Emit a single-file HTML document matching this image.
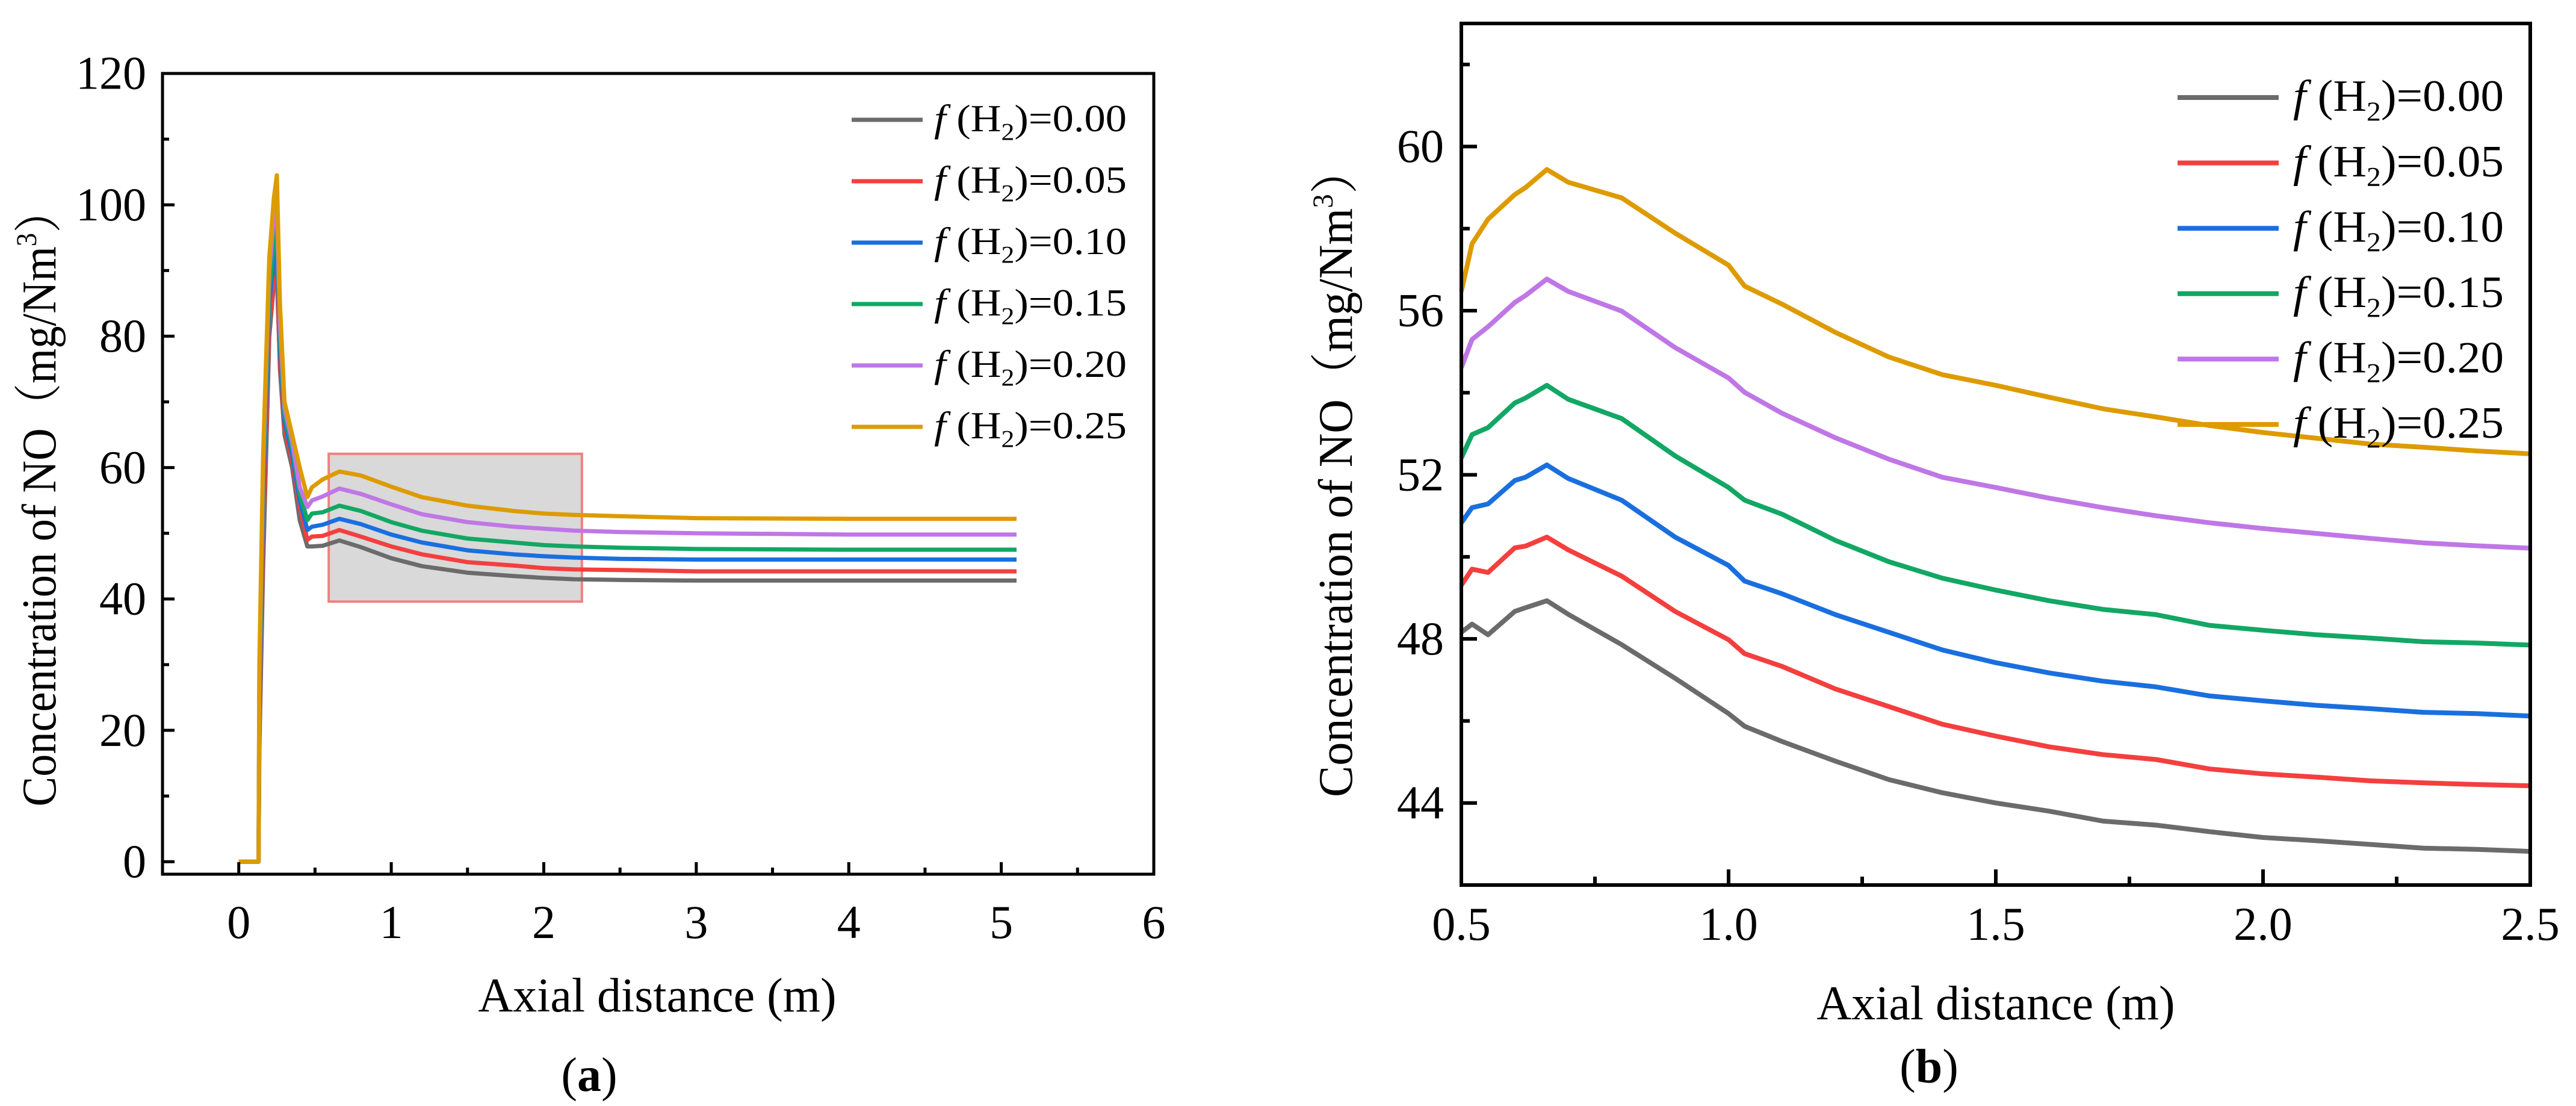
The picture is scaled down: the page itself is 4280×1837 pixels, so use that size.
<!DOCTYPE html>
<html><head><meta charset="utf-8">
<style>
html,body{margin:0;padding:0;background:#fff;}
svg{display:block;}
svg text{font-family:"Liberation Serif","Noto Serif CJK SC",serif;fill:#000;}
</style></head>
<body>
<svg id="fig" width="4280" height="1837" viewBox="0 0 4280 1837" xmlns="http://www.w3.org/2000/svg">
<rect x="0" y="0" width="4280" height="1837" fill="#fff"/>
<g id="pa"></g>
<g id="pb"></g>
</svg>
<script>
// ---------- shared series info ----------
const seriesNames = ["f(H2)=0.00","f(H2)=0.05","f(H2)=0.10","f(H2)=0.15","f(H2)=0.20","f(H2)=0.25"];
const seriesLabels = ["0.00","0.05","0.10","0.15","0.20","0.25"];
const seriesColors = ["#6b6b6b","#f43f3f","#1a6fdf","#12a764","#c077e6","#dd9b00"];

// ---------- panel (a) data ----------
const aX = [0,0.13,0.135,0.16,0.2,0.23,0.25,0.27,0.3,0.35,0.4,0.45,0.48,0.55,0.66,0.8,1.0,1.2,1.5,1.8,2.0,2.2,2.5,3.0,4.0,5.1];
const aS0 = [0,0,17,45,80,88,91,75,65,60,52,48,48,48.1,48.9,47.9,46.2,45.0,44.0,43.5,43.2,43.0,42.9,42.8,42.8,42.8];
const aS1 = [0,0,20,50,82,88,89,76,66,61,54,49,49.5,49.6,50.5,49.5,48,46.8,45.6,45.1,44.7,44.5,44.4,44.2,44.2,44.2];
const aS2 = [0,0,22,55,85,92,95,78,67,62,55,50.5,51,51.3,52.2,51.4,49.8,48.6,47.4,46.8,46.5,46.3,46.1,46,46,46];
const aS3 = [0,0,25,58,87,94,97,80,68,63,56,52,53,53.2,54.2,53.4,51.7,50.4,49.2,48.6,48.2,48,47.8,47.6,47.5,47.5];
const aS4 = [0,0,28,60,90,98,100,82,69,64,57,54,55,55.6,56.8,56,54.4,52.9,51.7,51,50.7,50.4,50.2,50,49.8,49.8];
const aS5 = [0,0,30,62,92,101,104.5,85,70,65,60,55.5,57,58.2,59.4,58.8,57.1,55.5,54.2,53.4,53,52.8,52.6,52.3,52.2,52.2];
const aXTicks = [0,1,2,3,4,5,6];
const aXTickLabels = ["0","1","2","3","4","5","6"];
const aYTicks = [0,20,40,60,80,100,120];
const aYTickLabels = ["0","20","40","60","80","100","120"];
const aZoomBox = [0.59,2.25,39.6,62.1];

// ---------- panel (b) data ----------
const bX = [0.5,0.52,0.55,0.6,0.62,0.66,0.7,0.8,0.9,1.0,1.03,1.1,1.2,1.3,1.4,1.5,1.6,1.7,1.8,1.9,2.0,2.1,2.2,2.3,2.4,2.5];
const bS0 = [48.16,48.36,48.1,48.67,48.76,48.93,48.6,47.86,47.04,46.18,45.87,45.5,45.02,44.57,44.25,44.0,43.8,43.56,43.46,43.3,43.16,43.08,42.99,42.9,42.87,42.82];
const bS1 = [49.31,49.7,49.62,50.22,50.26,50.48,50.17,49.53,48.67,47.98,47.64,47.33,46.78,46.35,45.92,45.63,45.37,45.18,45.06,44.83,44.71,44.63,44.54,44.49,44.45,44.42];
const bS2 = [50.83,51.2,51.29,51.86,51.94,52.24,51.91,51.38,50.48,49.79,49.41,49.1,48.59,48.16,47.73,47.42,47.17,46.97,46.83,46.61,46.49,46.38,46.3,46.21,46.18,46.12];
const bS3 = [52.41,52.98,53.15,53.75,53.87,54.18,53.84,53.37,52.46,51.69,51.38,51.04,50.4,49.88,49.48,49.19,48.93,48.72,48.59,48.33,48.21,48.1,48.02,47.93,47.9,47.85];
const bS4 = [54.61,55.3,55.61,56.2,56.37,56.77,56.47,55.99,55.1,54.36,54.01,53.5,52.9,52.38,51.94,51.69,51.43,51.2,51.0,50.83,50.69,50.57,50.45,50.34,50.27,50.21];
const bS5 = [56.47,57.63,58.23,58.83,59.0,59.44,59.13,58.75,57.89,57.11,56.6,56.16,55.47,54.87,54.44,54.18,53.89,53.61,53.41,53.2,53.03,52.89,52.75,52.67,52.58,52.51];
const bXTicks = [0.5,1.0,1.5,2.0,2.5];
const bXTickLabels = ["0.5","1.0","1.5","2.0","2.5"];
const bYTicks = [44,48,52,56,60];
const bYTickLabels = ["44","48","52","56","60"];

const NS = "http://www.w3.org/2000/svg";
function mk(tag, attrs, parent){
  const e = document.createElementNS(NS, tag);
  for (const k in attrs) e.setAttribute(k, attrs[k]);
  parent.appendChild(e);
  return e;
}

function legendText(parent, x, y, label, size, len){
  const t = mk("text",{x:x,y:y,"font-size":size,textLength:len,lengthAdjust:"spacingAndGlyphs"},parent);
  
  
  const f = mk("tspan",{"font-style":"italic"},t); f.textContent="f";
  const a = mk("tspan",{}, t); a.textContent=" (H";
  const s = mk("tspan",{"font-size":size*0.62,dy:size*0.22},t); s.textContent="2";
  const b = mk("tspan",{dy:-size*0.22},t); b.textContent=")="+label;
  return t;
}

function panel(g, cfg){
  const {L,T,R,B,xmin,xmax,ymin,ymax} = cfg;
  const sx = v => L + (v - xmin) / (xmax - xmin) * (R - L);
  const sy = v => B - (v - ymin) / (ymax - ymin) * (B - T);
  if (cfg.box){
    const bx = mk("rect",{x:sx(cfg.box[0]),y:sy(cfg.box[3]),width:sx(cfg.box[1])-sx(cfg.box[0]),height:sy(cfg.box[2])-sy(cfg.box[3]),fill:"#d9d9d9",stroke:"#f08080","stroke-width":4},g);
    
    
  }
  cfg.series.forEach((ys, i) => {
    const pts = cfg.xs.map((x, j) => sx(x).toFixed(1) + "," + sy(ys[j]).toFixed(1)).join(" ");
    const pl = mk("polyline",{points:pts,fill:"none",stroke:seriesColors[i],"stroke-width":cfg.lw,"stroke-linejoin":"round"},g);
    
    
  });
  const fr = mk("rect",{x:L,y:T,width:R-L,height:B-T,fill:"none",stroke:"#000","stroke-width":cfg.aw},g);
  
  
  cfg.xTicks.forEach((v, i) => {
    const tk = mk("line",{x1:sx(v),x2:sx(v),y1:B,y2:B-cfg.maj,stroke:"#000","stroke-width":cfg.aw},g);
    
    
    const tl = mk("text",{x:sx(v),y:cfg.xLabY,"font-size":cfg.fs,"text-anchor":"middle"},g);
    tl.textContent = cfg.xLabels[i];
    
    
  });
  cfg.xMinor.forEach(v => {
    const tk = mk("line",{x1:sx(v),x2:sx(v),y1:B,y2:B-cfg.min,stroke:"#000","stroke-width":cfg.aw},g);
    
    
  });
  cfg.yTicks.forEach((v, i) => {
    const tk = mk("line",{x1:L,x2:L+cfg.maj,y1:sy(v),y2:sy(v),stroke:"#000","stroke-width":cfg.aw},g);
    
    
    const tl = mk("text",{x:cfg.yLabX,y:sy(v)+cfg.fs*0.33,"font-size":cfg.fs,"text-anchor":"end"},g);
    tl.textContent = cfg.yLabels[i];
    
    
  });
  cfg.yMinor.forEach(v => {
    const tk = mk("line",{x1:L,x2:L+cfg.min,y1:sy(v),y2:sy(v),stroke:"#000","stroke-width":cfg.aw},g);
    
    
  });
  seriesLabels.forEach((lab, i) => {
    const y = cfg.legY0 + i * cfg.legDy;
    const ln = mk("line",{x1:cfg.legX1,x2:cfg.legX2,y1:y,y2:y,stroke:seriesColors[i],"stroke-width":cfg.lw},g);
    
    
    legendText(g, cfg.legTX, y + cfg.legFs*0.3, lab, cfg.legFs, cfg.legLen);
  });
  const xt = mk("text",{x:cfg.xTitleX,y:cfg.xTitleY,"font-size":cfg.tfs,"text-anchor":"middle"},g);
  xt.textContent = "Axial distance (m)";
  
  
  const yt = mk("text",{x:0,y:0,"font-size":cfg.tfs,"text-anchor":"middle",transform:"translate("+cfg.yTitleX+","+cfg.yTitleY+") rotate(-90)",textLength:cfg.yTitleLen,lengthAdjust:"spacingAndGlyphs"},g);
  
  
  const p1 = mk("tspan",{},yt); p1.textContent = "Concentration of NO（mg/Nm";
  const p2 = mk("tspan",{"font-size":cfg.tfs*0.6,dy:-cfg.tfs*0.4},yt); p2.textContent = "3";
  const p3 = mk("tspan",{dy:cfg.tfs*0.4},yt); p3.textContent = "）";
  const cap = mk("text",{x:cfg.capX,y:cfg.capY,"font-size":cfg.tfs,"text-anchor":"middle"},g);
  
  
  const c1 = mk("tspan",{},cap); c1.textContent="(";
  const c2 = mk("tspan",{"font-weight":"bold"},cap); c2.textContent=cfg.cap;
  const c3 = mk("tspan",{},cap); c3.textContent=")";
}

panel(document.getElementById("pa"), {
  L:270,T:122,R:1917,B:1452,xmin:-0.5,xmax:6,ymin:-1.9,ymax:120,
  xs:aX, series:[aS0,aS1,aS2,aS3,aS4,aS5], lw:7, aw:5, maj:20, min:11,
  box:aZoomBox,
  xTicks:aXTicks, xLabels:aXTickLabels, xMinor:[-0.5,0.5,1.5,2.5,3.5,4.5,5.5],
  yTicks:aYTicks, yLabels:aYTickLabels, yMinor:[10,30,50,70,90,110],
  fs:78, xLabY:1558, yLabX:243,
  legX1:1415, legX2:1533, legTX:1552, legY0:199, legDy:102, legFs:64, legLen:320,
  tfs:80, xTitleX:1092, xTitleY:1680, yTitleX:92, yTitleY:826, yTitleLen:1027,
  capX:979, capY:1812, cap:"a"
});

panel(document.getElementById("pb"), {
  L:2428,T:39,R:4204,B:1470,xmin:0.5,xmax:2.5,ymin:42.0,ymax:63.0,
  xs:bX, series:[bS0,bS1,bS2,bS3,bS4,bS5], lw:8, aw:6, maj:26, min:14,
  xTicks:bXTicks, xLabels:bXTickLabels, xMinor:[0.75,1.25,1.75,2.25],
  yTicks:bYTicks, yLabels:bYTickLabels, yMinor:[42,46,50,54,58,62],
  fs:78, xLabY:1561, yLabX:2399,
  legX1:3618, legX2:3786, legTX:3810, legY0:162, legDy:108.6, legFs:74, legLen:350,
  tfs:80, xTitleX:3316, xTitleY:1693, yTitleX:2246, yTitleY:784, yTitleLen:1080,
  capX:3205, capY:1798, cap:"b"
});
</script>
</body></html>
